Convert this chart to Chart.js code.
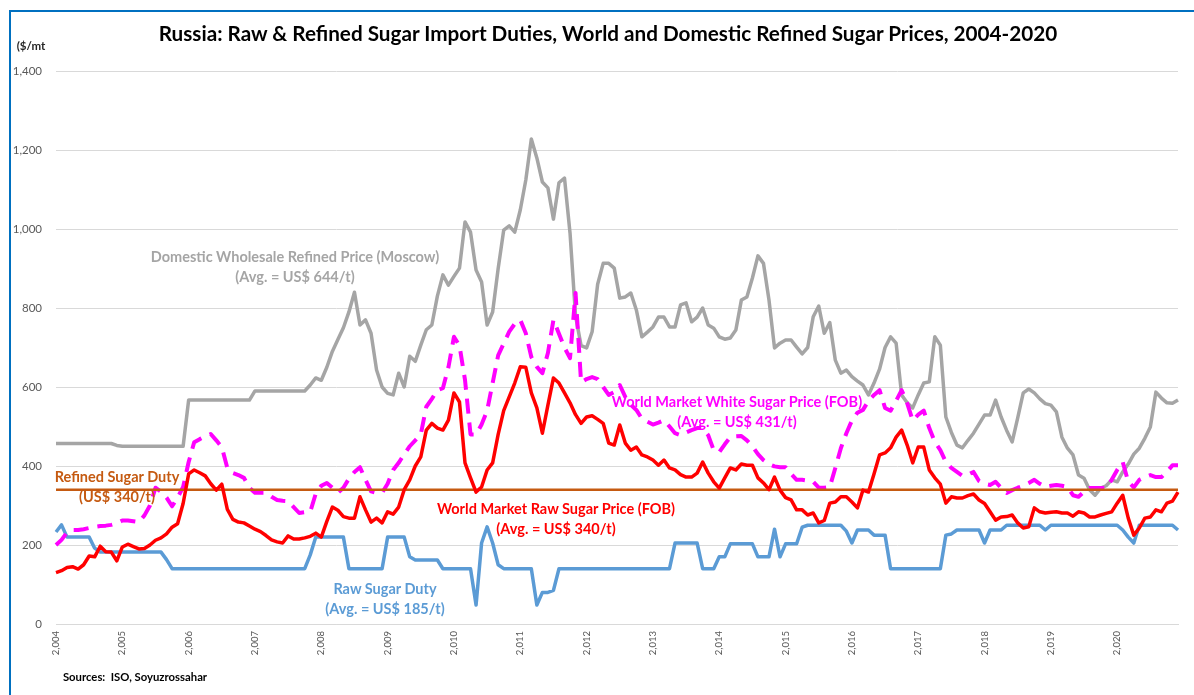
<!DOCTYPE html>
<html>
<head>
<meta charset="utf-8">
<script src="https://cdn.jsdelivr.net/npm/chart.js@4.4.1/dist/chart.umd.min.js"></script>
<style>
html,body{margin:0;padding:0;background:#fff;}
#wrap{position:relative;width:1194px;height:695px;overflow:hidden;background:#fff;font-family:Lato,"Open Sans",sans-serif;}
#frame{position:absolute;left:9px;top:10px;width:1300px;height:800px;border-top:2.5px solid #0070C0;border-left:2.5px solid #0070C0;box-sizing:border-box;}
canvas{position:absolute;left:0;top:0;}
.t{position:absolute;white-space:nowrap;font-weight:bold;transform:translate(-50%,-50%);text-align:center;}
.a{font-size:14.5px;line-height:19.5px;}
</style>
</head>
<body>
<div id="wrap">
  <div id="frame"></div>
  <canvas id="c" width="1194" height="695"></canvas>
  <div class="t" style="left:608px;top:33px;font-size:20.7px;color:#000;">Russia: Raw &amp; Refined Sugar Import Duties, World and Domestic Refined Sugar Prices, 2004-2020</div>
  <div class="t" style="left:31px;top:45px;font-size:11.5px;color:#262626;">($/mt</div>
  <div class="t a" style="left:295px;top:266px;color:#A5A5A5;">Domestic Wholesale Refined Price (Moscow)<br>(Avg. = US$ 644/t)</div>
  <div class="t a" style="left:117px;top:486px;color:#C55A11;">Refined Sugar Duty<br>(US$ 340/t)</div>
  <div class="t a" style="left:556px;top:518px;color:#FF0000;">World Market Raw Sugar Price (FOB)<br>(Avg. = US$ 340/t)</div>
  <div class="t a" style="left:737px;top:411px;color:#FF00FF;">World Market White Sugar Price (FOB)<br>(Avg. = US$ 431/t)</div>
  <div class="t a" style="left:385px;top:598px;color:#5B9BD5;">Raw Sugar Duty<br>(Avg. = US$ 185/t)</div>
  <div class="t" style="left:135px;top:676px;font-size:11.3px;color:#000;">Sources:&nbsp; ISO, Soyuzrossahar</div>
</div>
<script>
// ---- data ----
const years = [2004,2005,2006,2007,2008,2009,2010,2011,2012,2013,2014,2015,2016,2017,2018,2019,2020];
const tickLabels = ['2,004','2,005','2,006','2,007','2,008','2,009','2,010','2,011','2,012','2,013','2,014','2,015','2,016','2,017','2,018','2,019','2,020'];
const monthNames = ['01','02','03','04','05','06','07','08','09','10','11','12'];
const months = [];
years.forEach(y => monthNames.forEach(m => months.push(y + '-' + m)));

const domesticPrice = [
  457,457,457,457,457,457,457,457,457,457,457,452,
  450,450,450,450,450,450,450,450,450,450,450,450,
  567,567,567,567,567,567,567,567,567,567,567,567,
  590,590,590,590,590,590,590,590,590,590,605,623,
  617,650,690,720,750,790,840,757,770,736,643,600,
  584,580,635,600,678,665,706,745,757,830,884,858,
  880,901,1018,992,896,866,757,790,900,997,1008,992,
  1048,1124,1228,1180,1119,1104,1025,1117,1129,990,780,705,
  699,740,860,913,913,901,825,828,838,795,727,739,
  752,777,777,752,752,808,813,765,777,800,757,749,
  727,721,724,744,820,828,876,932,913,820,699,711,
  719,719,701,684,700,778,805,736,763,668,635,643,
  626,615,605,580,610,645,700,727,711,580,560,547,
  580,610,613,727,706,524,485,453,446,465,483,506,
  529,529,567,524,490,461,522,585,595,585,570,558,
  554,537,473,445,428,377,369,340,326,344,350,365,
  360,385,405,430,445,470,499,587,572,560,559,567
];
const rawPrice = [
  130,135,143,145,139,150,172,170,197,183,182,160,
  195,202,196,190,191,200,212,218,228,245,254,305,
  380,390,383,375,355,339,354,290,265,258,256,248,
  240,234,224,213,208,205,223,215,215,218,222,230,
  220,260,296,288,272,268,268,322,289,258,268,256,
  284,278,296,340,365,400,423,491,508,496,491,516,
  585,562,408,370,334,347,390,408,480,540,575,610,
  651,650,585,547,483,554,623,610,585,560,530,508,
  524,527,518,508,458,453,504,458,440,448,428,423,
  415,402,415,395,390,378,372,372,382,410,382,360,
  344,370,395,390,405,402,402,370,357,340,372,339,
  320,314,289,289,276,281,256,262,306,309,322,322,
  309,294,339,334,380,428,433,446,473,491,453,408,
  448,448,390,370,354,306,322,319,319,325,329,314,
  305,284,263,271,272,276,256,243,246,294,284,281,
  283,284,281,281,273,284,281,271,271,276,280,284,
  306,326,268,225,243,268,271,289,284,306,311,334
];
const whitePrice = [
  200,213,232,238,238,240,243,246,248,249,251,255,
  262,262,260,258,275,300,345,335,320,298,320,347,
  410,460,468,475,481,465,448,395,382,377,370,345,
  332,332,332,322,314,312,311,296,281,283,284,330,
  350,357,345,332,345,368,385,397,365,336,332,332,
  355,390,408,430,450,465,480,550,570,592,597,650,
  727,705,618,480,480,505,540,610,680,710,740,760,
  770,736,676,651,635,686,770,735,700,673,838,612,
  620,625,620,600,580,587,605,575,555,542,520,512,
  505,510,516,500,483,478,485,491,496,496,478,440,
  435,455,473,475,476,465,450,430,415,405,399,397,
  397,380,365,365,363,360,345,345,347,395,445,483,
  515,535,542,565,580,592,547,540,565,592,559,515,
  530,540,496,461,440,410,395,385,375,378,385,362,
  355,352,360,345,332,339,345,350,357,365,355,347,
  350,352,350,347,326,322,335,344,344,344,344,365,
  390,410,360,346,365,372,377,372,372,385,402,402
];
const rawDuty = [
  233,251,220,220,220,220,220,192,182,182,182,182,
  182,182,182,182,182,182,182,182,163,140,140,140,
  140,140,140,140,140,140,140,140,140,140,140,140,
  140,140,140,140,140,140,140,140,140,140,175,220,
  220,220,220,220,220,140,140,140,140,140,140,140,
  220,220,220,220,170,162,162,162,162,162,140,140,
  140,140,140,140,48,205,246,205,150,140,140,140,
  140,140,140,48,80,80,85,140,140,140,140,140,
  140,140,140,140,140,140,140,140,140,140,140,140,
  140,140,140,140,205,205,205,205,205,140,140,140,
  170,170,203,203,203,203,203,170,170,170,240,170,
  203,203,203,245,250,250,250,250,250,250,250,235,
  205,238,238,238,225,225,225,140,140,140,140,140,
  140,140,140,140,140,225,228,238,238,238,238,238,
  205,238,238,238,250,250,250,250,250,250,250,238,
  250,250,250,250,250,250,250,250,250,250,250,250,
  250,238,220,205,250,250,250,250,250,250,250,238
];
const refinedDuty = 340;

// ---- chart ----
const ctx = document.getElementById('c').getContext('2d');
new Chart(ctx, {
  type: 'line',
  data: {
    labels: months,
    datasets: [
      { label: 'World Market Raw Sugar Price (FOB)', data: rawPrice, borderColor: '#FF0000', borderWidth: 3.5, order: 0 },
      { label: 'Refined Sugar Duty', data: [{x: months[0], y: refinedDuty}, {x: months[months.length - 1], y: refinedDuty}], borderColor: '#C55A11', borderWidth: 2.5, order: 1 },
      { label: 'World Market White Sugar Price (FOB)', data: whitePrice, borderColor: '#FF00FF', borderWidth: 4, borderDash: [15, 9], order: 2 },
      { label: 'Raw Sugar Duty', data: rawDuty, borderColor: '#5B9BD5', borderWidth: 3.5, order: 3 },
      { label: 'Domestic Wholesale Refined Price (Moscow)', data: domesticPrice, borderColor: '#A5A5A5', borderWidth: 3.5, order: 4 }
    ]
  },
  options: {
    responsive: false,
    animation: false,
    layout: { padding: { left: 6, right: 16, top: 71, bottom: 0 } },
    plugins: { legend: { display: false }, tooltip: { enabled: false }, title: { display: false } },
    elements: { point: { radius: 0 }, line: { tension: 0, borderJoinStyle: 'round', fill: false } },
    scales: {
      x: {
        grid: { display: false, drawTicks: false },
        border: { display: true, color: '#D9D9D9', width: 1 },
        ticks: {
          autoSkip: false, maxRotation: 90, minRotation: 90, padding: 7,
          color: '#595959', font: { family: 'Lato', size: 9.5 },
          callback: (v, i) => (i % 12 === 0 ? tickLabels[i / 12] : null)
        },
        afterFit: s => { s.height = 71; }
      },
      y: {
        min: 0, max: 1400,
        grid: { color: '#D9D9D9', lineWidth: 1, drawTicks: false },
        border: { display: false },
        ticks: {
          stepSize: 200, padding: 14, color: '#595959',
          font: { family: 'Lato', size: 11.5 },
          callback: v => v.toLocaleString('en-US')
        },
        afterFit: s => { s.width = 50; }
      }
    }
  }
});
</script>
</body>
</html>
